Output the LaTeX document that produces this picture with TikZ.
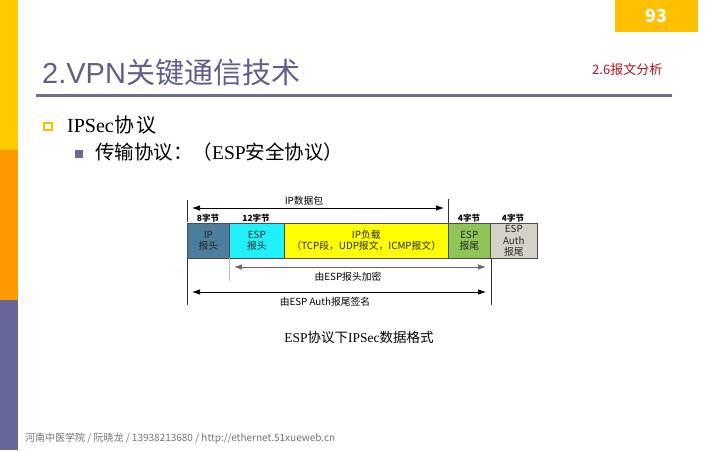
\documentclass[tikz,border=0pt]{standalone}
\usepackage{fontspec}
\setmainfont{Liberation Serif}
\newfontfamily\cjk{Noto Sans CJK SC}
\newfontfamily\lsans{Liberation Sans}
\usetikzlibrary{arrows.meta}
\definecolor{barY}{HTML}{FFCC00}
\definecolor{barO}{HTML}{FF9900}
\definecolor{barP}{HTML}{666699}
\definecolor{pageY}{HTML}{FFC000}
\definecolor{titlec}{HTML}{5F5F8A}
\definecolor{linec}{HTML}{6F6F96}
\definecolor{secc}{HTML}{B01020}
\definecolor{ipc}{HTML}{4C7D9C}
\definecolor{espc}{HTML}{20F0F8}
\definecolor{payc}{HTML}{FFFF00}
\definecolor{trc}{HTML}{8FC457}
\definecolor{authc}{HTML}{D6D1C6}
\tikzset{
  fld/.style={draw=black!70, line width=0.6, inner sep=0, anchor=north west,
    font=\cjk\fontsize{9.8}{11}\selectfont, align=center, text=black!85},
  bytes/.style={font=\cjk\bfseries\fontsize{8.5}{9}\selectfont, inner sep=0},
  dlabel/.style={font=\cjk\fontsize{9.8}{10}\selectfont, inner sep=0},
  arr/.style={{Latex[length=8,width=5.5]}-{Latex[length=8,width=5.5]}, line width=0.7},
  tick/.style={line width=0.7, black!80},
}
\begin{document}
\begin{tikzpicture}[x=1pt,y=-1pt]
\fill[white] (0,0) rectangle (720,450);
\useasboundingbox (0,0) rectangle (720,450);
% left bar
\fill[barY] (0,0) rectangle (18,150);
\fill[barO] (0,150) rectangle (18,300);
\fill[barP] (0,300) rectangle (18,450);
% page number
\node (pg) [fill=pageY, minimum width=83, minimum height=32, anchor=north west, inner sep=0,
  text=white, font=\cjk\bfseries\fontsize{18}{18}\selectfont] at (615,0) {93};
% title
\node (title) [anchor=base west, inner sep=0, text=titlec, font=\cjk\fontsize{29}{29}\selectfont] at (42,83) {{\lsans 2.VPN}关键通信技术};
\node (sec) [anchor=west, inner sep=0, text=secc, font=\cjk\fontsize{13}{13}\selectfont] at (592,70) {2.6报文分析};
\draw[linec, line width=3.5] (36,95.5) -- (672,95.5);
% bullets
\draw[barY!80!orange, line width=2, fill=white] (44,123) rectangle (52,130);
\node (b1) [anchor=base west, inner sep=0, font=\fontsize{20}{20}\selectfont] at (67,132) {IPSec{\cjk\hspace{1pt}协\hspace{2pt}议}};
\fill[barP] (75,150) rectangle (83,158);
\node (b2) [anchor=base west, inner sep=0, font=\fontsize{19.5}{20}\selectfont] at (95,159) {{\cjk 传输协议：（}ESP{\cjk 安全协议）}};
% fields
\node (ip) [fld, fill=ipc, minimum width=42, minimum height=35] at (187,223) {IP\\报头};
\node (esph) [fld, fill=espc, minimum width=55, minimum height=35] at (229,223) {ESP\\报头};
\node (pay) [fld, fill=payc, minimum width=164, minimum height=35] at (284,223) {IP负载\\（TCP段，UDP报文，ICMP报文）};
\node (tr) [fld, fill=trc, minimum width=42, minimum height=35] at (448,223) {ESP\\报尾};
\node (auth) [fld, fill=authc, minimum width=47, minimum height=35, font=\cjk\fontsize{9.8}{11.3}\selectfont] at (490,223) {ESP\\Auth\\报尾};
% byte labels
\node (l8) [bytes] at (208,218) {8字节};
\node (l12) [bytes] at (256,218) {12字节};
\node (l4a) [bytes] at (469,218) {4字节};
\node (l4b) [bytes] at (513,218) {4字节};
% top arrow
\coordinate (t1a) at (187,200); \coordinate (t1b) at (187,222);
\coordinate (t2a) at (448,199); \coordinate (t2b) at (448,223);
\draw[tick] (t1a) -- (t1b);
\draw[tick] (t2a) -- (t2b);
\coordinate (a1l) at (192,208); \coordinate (a1r) at (444,208);
\draw[arr] (a1l) -- (a1r);
\node (ipdp) [dlabel] at (304,201) {IP数据包};
% encryption arrow
\coordinate (g1a) at (229,258); \coordinate (g1b) at (229,281);
\draw[black!25, line width=0.7] (g1a) -- (g1b);
\coordinate (a2l) at (234,267); \coordinate (a2r) at (486,267);
\draw[arr, black!60] (a2l) -- (a2r);
\node (enc) [dlabel] at (348,277) {由ESP报头加密};
% auth arrow
\coordinate (v1a) at (187,258); \coordinate (v1b) at (187,305);
\coordinate (v2a) at (491,258); \coordinate (v2b) at (491,305);
\draw[tick] (v1a) -- (v1b);
\draw[tick] (v2a) -- (v2b);
\coordinate (a3l) at (192,292); \coordinate (a3r) at (486,292);
\draw[arr] (a3l) -- (a3r);
\node (sig) [dlabel] at (325,302) {由ESP Auth报尾签名};
% caption
\node (cap) [inner sep=0, font=\fontsize{13.5}{14}\selectfont] at (359,337) {ESP{\cjk 协议下}IPSec{\cjk 数据格式}};
% footer
\node (foot) [anchor=west, inner sep=0, text=black!55, font=\cjk\fontsize{10}{10}\selectfont] at (25,438) {河南中医学院 / 阮晓龙 / 13938213680 / http://ethernet.51xueweb.cn};
\end{tikzpicture}
\end{document}
